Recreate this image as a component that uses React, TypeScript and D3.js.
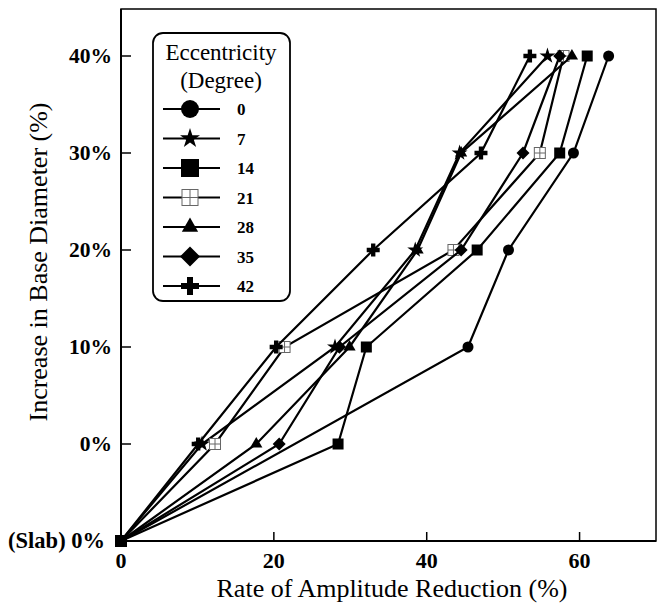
import React from "react";
import * as d3 from "d3";

const width = 657;
const height = 606;

// y is an ordered set of levels, equally spaced
const levels = ["(Slab) 0%", "0%", "10%", "20%", "30%", "40%"];
const eccentricities = ["0", "7", "14", "21", "28", "35", "42"];
const xTicks = [0, 20, 40, 60];

// rate of amplitude reduction (%) at each level, null = no point
const ecc0 = [0, null, 45.4, 50.7, 59.2, 63.8];
const ecc7 = [0, 10.6, 28.0, 38.5, 44.3, 55.8];
const ecc14 = [0, 28.4, 32.1, 46.6, 57.4, 61.0];
const ecc21 = [0, 12.3, 21.4, 43.5, 54.8, 57.9];
const ecc28 = [0, 17.7, 29.9, 38.8, 44.5, 59.0];
const ecc35 = [0, 20.7, 28.6, 44.5, 52.6, 57.4];
const ecc42 = [0, 10.1, 20.3, 33.0, 47.1, 53.5];

const seriesValues = [ecc0, ecc7, ecc14, ecc21, ecc28, ecc35, ecc42];
const markers = ["circle", "star", "square", "openSquare", "triangle", "diamond", "cross"];

const x = d3.scaleLinear().domain([0, 70]).range([121, 656]);
const y = d3.scalePoint().domain(levels).range([541, 56]);

const font = "'Liberation Serif', 'Times New Roman', serif";

function Marker({ kind, cx, cy, s }: { kind: string; cx: number; cy: number; s: number }) {
  // s = nominal width of the marker in px
  if (kind === "circle") return <circle cx={cx} cy={cy} r={s / 2} fill="#000" />;
  if (kind === "square")
    return <rect x={cx - s / 2} y={cy - s / 2} width={s} height={s} fill="#000" />;
  if (kind === "openSquare")
    return (
      <g stroke="#666" strokeWidth={1} fill="#fff">
        <rect x={cx - s / 2} y={cy - s / 2} width={s} height={s} />
        <line x1={cx} x2={cx} y1={cy - s / 2} y2={cy + s / 2} />
        <line x1={cx - s / 2} x2={cx + s / 2} y1={cy} y2={cy} />
      </g>
    );
  if (kind === "diamond") {
    const h = s / 2;
    return <path d={`M${cx},${cy - h}L${cx + h},${cy}L${cx},${cy + h}L${cx - h},${cy}Z`} fill="#000" />;
  }
  let type = d3.symbolStar;
  let size = 0;
  if (kind === "star") size = (s * s) * 0.55;
  if (kind === "triangle") {
    type = d3.symbolTriangle;
    size = s * s * 0.45;
  }
  if (kind === "cross") {
    type = d3.symbolCross;
    size = (s * s * 5) / 9;
  }
  const d = d3.symbol().type(type).size(size)() as string;
  return <path d={d} transform={`translate(${cx},${cy})`} fill="#000" />;
}

const plotSize: Record<string, number> = {
  circle: 11, square: 11, openSquare: 11, star: 12, triangle: 12, diamond: 13, cross: 13
};
const legendSize: Record<string, number> = {
  circle: 18, square: 18, openSquare: 16, star: 15, triangle: 16, diamond: 20, cross: 18
};

export default function App() {
  const line = d3
    .line<any>()
    .defined((d) => d.v != null)
    .x((d) => x(d.v))
    .y((d) => y(d.level) as number);

  const legendRowY = (i: number) => 109 + i * 29.5;

  return (
    <svg width={width} height={height} style={{ display: "block", position: "absolute", left: 0, top: 0 }}>
      <rect width={width} height={height} fill="#fff" />

      {/* frame */}
      <rect x={x(0)} y={9} width={x(70) - x(0)} height={541 - 9} fill="none" stroke="#000" strokeWidth={1.5} />
      <line x1={x(0)} x2={x(70)} y1={541} y2={541} stroke="#000" strokeWidth={2} />
      <line x1={x(0)} x2={x(0)} y1={9} y2={541} stroke="#000" strokeWidth={2} />

      {/* y ticks */}
      {levels.map((l, i) => (
        <g key={l}>
          {i > 0 && <line x1={x(0)} x2={x(0) + 10} y1={y(l)} y2={y(l)} stroke="#000" strokeWidth={1.5} />}
          <text
            x={i === 0 ? 105 : 112}
            y={(y(l) as number) + 7}
            textAnchor="end"
            fontFamily={font}
            fontWeight="bold"
            fontSize={i === 0 ? 22.5 : 21.5}
          >
            {l}
          </text>
        </g>
      ))}

      {/* x ticks */}
      {xTicks.map((t) => (
        <g key={t}>
          {t > 0 && <line x1={x(t)} x2={x(t)} y1={541} y2={532} stroke="#000" strokeWidth={1.5} />}
          <text x={x(t)} y={568} textAnchor="middle" fontFamily={font} fontWeight="bold" fontSize={22}>
            {t}
          </text>
        </g>
      ))}

      {/* axis titles */}
      <text x={392} y={597} textAnchor="middle" fontFamily={font} fontSize={26}>
        Rate of Amplitude Reduction (%)
      </text>
      <text transform="translate(47,262) rotate(-90)" textAnchor="middle" fontFamily={font} fontSize={26}>
        Increase in Base Diameter (%)
      </text>

      {/* series */}
      {seriesValues.map((vals, si) => {
        const pts = vals.map((v, i) => ({ v, level: levels[i] }));
        return (
          <g key={si}>
            <path d={line(pts.filter((p) => p.v != null)) as string} fill="none" stroke="#000" strokeWidth={2.2} />
            {pts
              .filter((p, i) => p.v != null && i > 0)
              .map((p, i) => (
                <Marker key={i} kind={markers[si]} cx={x(p.v as number)} cy={y(p.level) as number} s={plotSize[markers[si]]} />
              ))}
          </g>
        );
      })}
      {/* slab origin */}
      <rect x={x(0) - 6} y={541 - 6} width={12} height={12} fill="#000" />

      {/* legend */}
      <rect x={153} y={33} width={137} height={268} rx={10} fill="#fff" stroke="#000" strokeWidth={1.8} />
      <text x={221} y={60} textAnchor="middle" fontFamily={font} fontSize={23}>
        Eccentricity
      </text>
      <text x={221} y={88} textAnchor="middle" fontFamily={font} fontSize={23}>
        (Degree)
      </text>
      {eccentricities.map((e, i) => (
        <g key={e}>
          <line x1={163} x2={220} y1={legendRowY(i)} y2={legendRowY(i)} stroke="#000" strokeWidth={2} />
          <Marker kind={markers[i]} cx={190} cy={legendRowY(i)} s={legendSize[markers[i]]} />
          <text x={237} y={legendRowY(i) + 6} fontFamily={font} fontWeight="bold" fontSize={17}>
            {e}
          </text>
        </g>
      ))}
    </svg>
  );
}
